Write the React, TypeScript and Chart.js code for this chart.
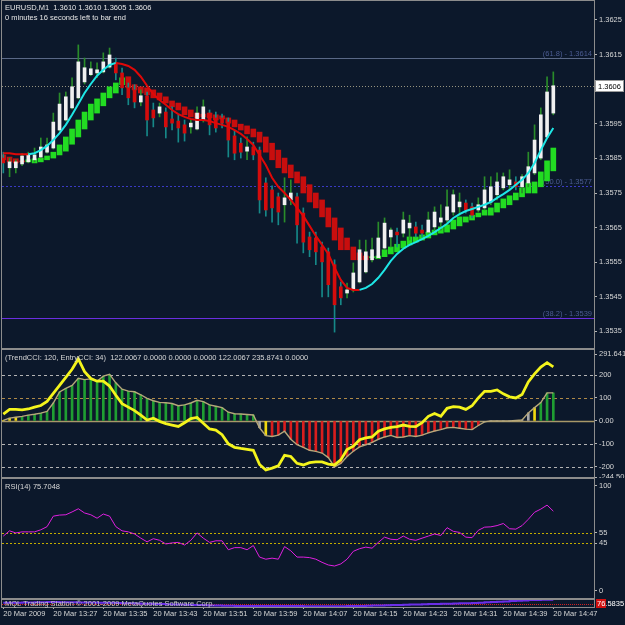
import React, { useEffect, useRef } from "react";
import { Chart, registerables } from "chart.js";

Chart.register(...registerables);

const FONT_FAMILY = "'Liberation Sans', Arial, sans-serif";
const FS = 7.5;
const BG = "#0c182b";
const FRAME = "#8c8c8c";
const TEXT = "#d6d6d6";
const CYAN = "#1ee6e6";
const MA_RED = "#e00808";

const X_MIN = -0.21;
const X_MAX = 94.51;

// 1-minute bars, 20 Mar 2009 13:19 .. 14:47
const timeTickBars = [0, 8, 16, 24, 32, 40, 48, 56, 64, 72, 80, 88];
const timeTickLabels = [
  "20 Mar 2009", "20 Mar 13:27", "20 Mar 13:35", "20 Mar 13:43", "20 Mar 13:51", "20 Mar 13:59",
  "20 Mar 14:07", "20 Mar 14:15", "20 Mar 14:23", "20 Mar 14:31", "20 Mar 14:39", "20 Mar 14:47",
];

const candleOpen = [
  1.35851, 1.35823, 1.35823, 1.35834, 1.3584, 1.35846, 1.35854, 1.35868, 1.3588, 1.35932,
  1.35961, 1.35996, 1.36025, 1.36071, 1.36092, 1.36097, 1.361, 1.36114, 1.36126, 1.36097,
  1.36054, 1.36048, 1.36013, 1.36031, 1.3599, 1.35981, 1.35984, 1.35964, 1.35958, 1.35947,
  1.35941, 1.35935, 1.35961, 1.35981, 1.35967, 1.35967, 1.35955, 1.35915, 1.35894, 1.35871,
  1.35883, 1.35874, 1.35779, 1.35759, 1.35739, 1.35716, 1.3573, 1.35739, 1.35692, 1.35623,
  1.3562, 1.35594, 1.3558, 1.35543, 1.35479, 1.35461, 1.3547, 1.35493, 1.35522, 1.35557,
  1.35563, 1.35591, 1.35623, 1.35637, 1.35634, 1.35649, 1.35652, 1.35643, 1.35637, 1.35652,
  1.35666, 1.35672, 1.35695, 1.3571, 1.35721, 1.3571, 1.35701, 1.35707, 1.35724, 1.35745,
  1.35765, 1.35774, 1.35782, 1.35768, 1.35779, 1.35808, 1.35851, 1.35912, 1.35981,
];
const candleHigh = [
  1.35868, 1.35851, 1.35846, 1.35865, 1.35868, 1.3588, 1.35909, 1.35909, 1.35981, 1.36039,
  1.36042, 1.36083, 1.36178, 1.3614, 1.36129, 1.36126, 1.36155, 1.36169, 1.3614, 1.36111,
  1.36068, 1.36063, 1.36048, 1.36042, 1.3601, 1.3601, 1.35996, 1.35999, 1.35976, 1.35961,
  1.35961, 1.35999, 1.36019, 1.3599, 1.35984, 1.35978, 1.35967, 1.35932, 1.35909, 1.35912,
  1.35897, 1.35883, 1.35794, 1.35771, 1.3575, 1.35794, 1.35788, 1.3575, 1.35707, 1.35637,
  1.35637, 1.35608, 1.35591, 1.35557, 1.35493, 1.3549, 1.35548, 1.35614, 1.35614, 1.3562,
  1.35666, 1.35678, 1.35649, 1.35649, 1.35695, 1.35686, 1.35666, 1.35657, 1.35695, 1.3571,
  1.35716, 1.35759, 1.35759, 1.3575, 1.3573, 1.35721, 1.35736, 1.35797, 1.35797, 1.35808,
  1.35808, 1.35817, 1.35797, 1.35803, 1.35868, 1.35947, 1.35996, 1.36086, 1.361,
];
const candleLow = [
  1.35808, 1.35797, 1.35808, 1.35829, 1.35837, 1.3584, 1.35851, 1.35865, 1.35877, 1.35929,
  1.35958, 1.35993, 1.36022, 1.36065, 1.36089, 1.36083, 1.36097, 1.36111, 1.36077, 1.36034,
  1.36005, 1.35996, 1.36002, 1.35915, 1.35941, 1.3597, 1.35909, 1.35932, 1.35897, 1.359,
  1.35923, 1.35932, 1.35955, 1.35918, 1.35926, 1.35938, 1.35854, 1.35846, 1.35851, 1.35846,
  1.35846, 1.35692, 1.35683, 1.35666, 1.35658, 1.35666, 1.35716, 1.35605, 1.35577, 1.35566,
  1.35543, 1.3545, 1.3545, 1.35348, 1.35427, 1.35447, 1.35464, 1.3549, 1.35519, 1.35551,
  1.3556, 1.35586, 1.35594, 1.35594, 1.35623, 1.35614, 1.35623, 1.35623, 1.35634, 1.35637,
  1.35643, 1.35666, 1.35686, 1.35686, 1.35692, 1.35678, 1.35695, 1.35701, 1.35716, 1.3573,
  1.35759, 1.35759, 1.35759, 1.3575, 1.35768, 1.35803, 1.35846, 1.35909, 1.35976,
];
const candleClose = [
  1.35837, 1.3584, 1.3584, 1.35857, 1.35862, 1.3586, 1.35883, 1.35889, 1.35955, 1.36007,
  1.36028, 1.36057, 1.36129, 1.36112, 1.36109, 1.36106, 1.36129, 1.36149, 1.36097, 1.36054,
  1.36025, 1.36013, 1.36031, 1.35961, 1.35967, 1.35999, 1.35941, 1.35952, 1.35938, 1.35923,
  1.35952, 1.35981, 1.35999, 1.35947, 1.35938, 1.35952, 1.35903, 1.35865, 1.35868, 1.35883,
  1.3586, 1.3573, 1.35701, 1.35707, 1.35695, 1.35736, 1.3575, 1.35658, 1.35608, 1.35586,
  1.3558, 1.35551, 1.35485, 1.35427, 1.35447, 1.3547, 1.35519, 1.35586, 1.3558, 1.35586,
  1.3562, 1.35663, 1.35643, 1.35629, 1.35672, 1.35663, 1.35634, 1.35634, 1.35672, 1.35695,
  1.35678, 1.3571, 1.35745, 1.35724, 1.35701, 1.35686, 1.35716, 1.35759, 1.35768, 1.35782,
  1.35797, 1.35788, 1.35768, 1.35797, 1.35826, 1.35903, 1.35976, 1.36042, 1.3606,
];
const haOpen = [
  1.3586, 1.35854, 1.35849, 1.35843, 1.3584, 1.35837, 1.3584, 1.35846, 1.35851, 1.3586,
  1.35871, 1.35891, 1.35912, 1.35935, 1.35961, 1.35981, 1.36002, 1.36025, 1.36039, 1.36063,
  1.36086, 1.36063, 1.36057, 1.36054, 1.36048, 1.36039, 1.36028, 1.36016, 1.3601, 1.35999,
  1.3599, 1.35981, 1.35978, 1.35981, 1.35976, 1.35973, 1.35967, 1.35961, 1.35949, 1.35944,
  1.35935, 1.35926, 1.35912, 1.35894, 1.35874, 1.35851, 1.35831, 1.35811, 1.35797, 1.35774,
  1.3575, 1.3573, 1.35707, 1.35678, 1.35649, 1.3562, 1.35594, 1.35577, 1.35568, 1.35563,
  1.3556, 1.35566, 1.35574, 1.3558, 1.35591, 1.356, 1.35608, 1.35614, 1.3562, 1.35629,
  1.35634, 1.35637, 1.35646, 1.35655, 1.35666, 1.35672, 1.35681, 1.35686, 1.35686, 1.35695,
  1.35707, 1.35716, 1.3573, 1.35739, 1.3575, 1.3575, 1.35768, 1.35785, 1.35814,
];
const haClose = [
  1.35846, 1.3584, 1.35837, 1.3584, 1.35846, 1.35849, 1.35851, 1.35857, 1.35868, 1.35889,
  1.35912, 1.35935, 1.35961, 1.35984, 1.36007, 1.36022, 1.36039, 1.36057, 1.36068, 1.36083,
  1.36054, 1.36048, 1.36039, 1.36034, 1.36025, 1.36019, 1.3601, 1.35999, 1.3599, 1.35976,
  1.3597, 1.35967, 1.3597, 1.35967, 1.35961, 1.35964, 1.35952, 1.35941, 1.35932, 1.35921,
  1.35912, 1.35897, 1.35868, 1.35846, 1.35823, 1.35808, 1.35794, 1.35779, 1.3575, 1.35724,
  1.35707, 1.35681, 1.35652, 1.35614, 1.35586, 1.35586, 1.35557, 1.35557, 1.35557, 1.35566,
  1.35568, 1.35586, 1.35594, 1.35602, 1.35611, 1.35623, 1.35623, 1.35629, 1.35637, 1.35643,
  1.35652, 1.35658, 1.35672, 1.35681, 1.35681, 1.35686, 1.35692, 1.35701, 1.35707, 1.35721,
  1.35733, 1.35742, 1.3575, 1.35765, 1.35779, 1.35782, 1.35811, 1.35843, 1.3588,
];
const maLine = [
  1.35865, 1.35865, 1.35862, 1.35862, 1.35862, 1.35865, 1.35874, 1.35886, 1.35903, 1.35923,
  1.35947, 1.35976, 1.36007, 1.36039, 1.36065, 1.36089, 1.36106, 1.3612, 1.36126, 1.36123,
  1.36117, 1.36106, 1.36086, 1.3606, 1.36036, 1.36019, 1.36005, 1.3599, 1.35978, 1.3597,
  1.35964, 1.35961, 1.35961, 1.35958, 1.35952, 1.35947, 1.35941, 1.35932, 1.35921, 1.35906,
  1.35889, 1.3586, 1.35831, 1.35794, 1.35768, 1.3575, 1.3573, 1.35707, 1.35684, 1.35655,
  1.35626, 1.356, 1.35574, 1.35534, 1.35499, 1.35476, 1.3547, 1.3547, 1.35476, 1.35487,
  1.35505, 1.35528, 1.35554, 1.35574, 1.35589, 1.356, 1.35608, 1.35617, 1.35626, 1.35637,
  1.35649, 1.35661, 1.35678, 1.35689, 1.35698, 1.35704, 1.3571, 1.35716, 1.35724, 1.35736,
  1.35747, 1.35759, 1.35774, 1.35788, 1.35808, 1.35837, 1.35874, 1.35909, 1.35938,
];
const priceTicks = [1.3535, 1.3545, 1.3555, 1.3565, 1.3575, 1.3585, 1.3595, 1.3605, 1.3615, 1.3625];
const fibLevels = [1.3614, 1.3577, 1.3539];
const fibNames = ["(61.8) - 1.3614", "(50.0) - 1.3577", "(38.2) - 1.3539"];
const lastPrice = 1.3606;
const headerLine1 = "EURUSD,M1  1.3610 1.3610 1.3605 1.3606";
const headerLine2 = "0 minutes 16 seconds left to bar end";

const cciEntry = [
  30, 50, 50, 48, 52, 60, 67, 85, 120, 155,
  190, 225, 270, 215, 185, 173, 173, 152, 112, 75,
  60, 45, 25, 4, 12, -2, -12, -18, -24, -8,
  10, 15, -10, -35, -40, -60, -100, -115, -120, -124,
  -128, -190, -214, -206, -196, -150, -155, -185, -192, -182,
  -179, -179, -188, -192, -170, -125, -110, -82, -74, -70,
  -45, -35, -28, -25, -18, -24, -25, -8, 20, 32,
  20, 55, 62, 60, 50, 66, 100, 129, 129, 135,
  118, 105, 100, 115, 170, 205, 235, 254, 235.8741,
];
const cciTrend = [
  2, 12, 16, 20, 25, 29, 34, 41, 78, 126,
  142, 155, 186, 180, 183, 173, 195, 203, 166, 138,
  130, 127, 114, 98, 88, 81, 79, 76, 66, 70,
  78, 90, 84, 70, 64, 58, 38, 31, 30, 28,
  26, -30, -64, -68, -62, -45, -80, -104, -115, -128,
  -133, -140, -160, -200, -185, -155, -132, -113, -104, -94,
  -80, -70, -63, -72, -70, -64, -68, -62, -52, -44,
  -38, -30, -28, -32, -36, -38, -20, -4, 0, 0,
  0, 0, 2, 4, 35, 58, 80, 122, 122.0067,
];
// histogram state per bar: y = yellow, g = green, r = red, n = neutral grey
const cciHistState =
  "yyyggggggg" + "gggggggggg" + "gggggggggg" + "gggggggggg" +
  "gnyrrrrrrr" + "rrrrrrrrrr" + "rrrrrrrrrr" + "rrrrrrrnnn" + "nnnnnyggg";
const cciTicks = [291.6413, 200, 100, 0, -100, -200, -244.502];
const cciTickLabels = ["291.6413", "200", "100", "0.00", "-100", "-200", "-244.502"];
const cciLevels = [200, 100, -100, -200];
const cciHeader = "(TrendCCI: 120, EntryCCI: 34)  122.0067 0.0000 0.0000 0.0000 122.0067 235.8741 0.0000";

const rsi = [
  52, 57, 55, 56, 56, 56, 58, 61, 71, 72,
  72.3, 75, 78, 74, 72.3, 69, 73, 71, 61, 57,
  56, 54, 50, 46.5, 49.5, 48, 44.5, 45.5, 46, 43.5,
  48, 55, 50, 46, 47.5, 47.5, 39, 41, 41, 39,
  43, 32, 30, 31, 30, 42, 38, 32, 32, 31.5,
  30, 27, 24.5, 23.5, 25.5, 30, 37.5, 40, 41.5, 40.5,
  46, 51, 49, 48.5, 52, 49, 48, 50, 52, 54,
  52.6, 60, 56.5, 55.5, 51, 50.5, 57.5, 60.5, 60.8, 62,
  64, 59, 58.6, 62, 68, 74.7, 77.7, 81.5, 75.7048,
];
const rsiTicks = [100, 55, 45, 0];
const rsiLevels = [55, 45];
const rsiHeader = "RSI(14) 75.7048";

const stripLine = [
  52, 52, 54, 55, 56, 58, 60, 62, 62, 60,
  58, 58, 56, 55, 55, 54, 54, 52, 50, 48,
  46, 44, 42, 40, 38, 36, 34, 32, 30, 28,
  26, 24, 22, 20, 18, 16, 15, 14, 14, 14,
  13, 13, 12, 12, 12, 11, 11, 11, 10, 10,
  10, 10, 10, 10, 10, 11, 12, 14, 16, 18,
  20, 22, 24, 26, 28, 30, 32, 34, 36, 38,
  40, 42, 44, 46, 48, 50, 54, 58, 62, 66,
  70, 74, 78, 82, 86, 88, 90, 92, 92,
];
const stripLevel = 37;
const stripValue = "76.5835";
const stripText = "MQL Trading Station \u00a9 2001-2009 MetaQuotes Software Corp.";

const idx = candleOpen.map((_, i) => i);
const fontTick = { family: FONT_FAMILY, size: FS };
const CSS_FONT = `${FS}px ${FONT_FAMILY}`;

function xScale(): any {
  return { type: "linear", min: X_MIN, max: X_MAX, display: false, offset: false, grid: { offset: false } };
}

function rightAxis(min: number, max: number, ticks: number[], fmt: (v: any, i: number) => string): any {
  return {
    type: "linear",
    position: "right",
    min,
    max,
    beginAtZero: false,
    afterFit: (s: any) => {
      s.width = 31;
      s.paddingTop = 0;
      s.paddingBottom = 0;
    },
    afterBuildTicks: (s: any) => {
      s.ticks = ticks.map((v) => ({ value: v }));
    },
    ticks: { color: TEXT, font: fontTick, padding: 2, autoSkip: false, callback: fmt },
    grid: { drawOnChartArea: false, drawTicks: true, tickLength: 3, color: "#b4b4b4" },
    border: { display: false },
  };
}

const common: any = {
  responsive: false,
  maintainAspectRatio: false,
  animation: false,
  devicePixelRatio: 1,
  events: [],
  plugins: { legend: { display: false }, tooltip: { enabled: false } },
};

function drawFrame(chart: any, bottomY?: number) {
  const { ctx } = chart;
  const h = bottomY ?? chart.height;
  ctx.save();
  ctx.strokeStyle = FRAME;
  ctx.lineWidth = 1;
  ctx.setLineDash([]);
  ctx.strokeRect(1.5, 0.5, 593, h - 1);
  ctx.restore();
}

function hLine(ctx: any, a: any, py: number, color: string, dash: number[], width = 1) {
  ctx.save();
  ctx.strokeStyle = color;
  ctx.lineWidth = width;
  ctx.setLineDash(dash);
  ctx.beginPath();
  ctx.moveTo(a.left, py);
  ctx.lineTo(a.right, py);
  ctx.stroke();
  ctx.restore();
}

const FIB_COLORS = ["#5a6886", "#3a3ac4", "#6a2ee0"];
const FIB_DASH = [[], [2, 2], []];

const mainDecor = {
  id: "mainDecor",
  beforeDatasetsDraw(chart: any) {
    const { ctx, chartArea: a, scales } = chart;
    const y = scales.y;
    fibLevels.forEach((lv, i) => {
      const py = Math.round(y.getPixelForValue(lv)) + 0.5;
      hLine(ctx, a, py, FIB_COLORS[i], FIB_DASH[i]);
      ctx.save();
      ctx.fillStyle = "#4c5c92";
      ctx.font = CSS_FONT;
      ctx.textAlign = "right";
      ctx.textBaseline = "bottom";
      ctx.fillText(fibNames[i], a.right - 2, py - 1);
      ctx.restore();
    });
    const lp = Math.round(y.getPixelForValue(lastPrice)) + 0.5;
    hLine(ctx, a, lp, "#97947f", [1, 2]);
  },
  afterDraw(chart: any) {
    const { ctx, scales } = chart;
    drawFrame(chart);
    ctx.save();
    ctx.fillStyle = "#e4e4e4";
    ctx.font = CSS_FONT;
    ctx.textAlign = "left";
    ctx.textBaseline = "top";
    ctx.fillText(headerLine1, 5, 4);
    ctx.fillText(headerLine2, 5, 14);
    const lp = Math.round(scales.y.getPixelForValue(lastPrice));
    ctx.fillStyle = "#ffffff";
    ctx.fillRect(596, lp - 5, 28, 11);
    ctx.strokeStyle = "#9a9a9a";
    ctx.strokeRect(595.5, lp - 5.5, 28, 11);
    ctx.fillStyle = "#000000";
    ctx.textBaseline = "middle";
    ctx.fillText(lastPrice.toFixed(4), 598, lp + 0.5);
    ctx.restore();
  },
};

const cciDecor = {
  id: "cciDecor",
  beforeDatasetsDraw(chart: any) {
    const { ctx, chartArea: a, scales } = chart;
    const y = scales.y;
    cciLevels.forEach((lv) => {
      const py = Math.round(y.getPixelForValue(lv)) + 0.5;
      hLine(ctx, a, py, lv === 100 ? "#b08a48" : "#b4b4b4", [3, 3]);
    });
    const z = Math.round(y.getPixelForValue(0)) + 0.5;
    hLine(ctx, a, z, "#a89868", [], 1.5);
  },
  afterDraw(chart: any) {
    const { ctx } = chart;
    drawFrame(chart);
    ctx.save();
    ctx.fillStyle = TEXT;
    ctx.font = CSS_FONT;
    ctx.textBaseline = "top";
    ctx.fillText(cciHeader, 5, 5);
    ctx.restore();
  },
};

const rsiDecor = {
  id: "rsiDecor",
  beforeDatasetsDraw(chart: any) {
    const { ctx, chartArea: a, scales } = chart;
    rsiLevels.forEach((lv) => {
      const py = Math.round(scales.y.getPixelForValue(lv)) + 0.5;
      hLine(ctx, a, py, "#c4ac00", [2, 2]);
    });
  },
  afterDraw(chart: any) {
    const { ctx } = chart;
    drawFrame(chart);
    ctx.save();
    ctx.fillStyle = TEXT;
    ctx.font = CSS_FONT;
    ctx.textBaseline = "top";
    ctx.fillText(rsiHeader, 5, 5);
    ctx.restore();
  },
};

const stripDecor = {
  id: "stripDecor",
  beforeDatasetsDraw(chart: any) {
    const { ctx, chartArea: a, scales } = chart;
    const py = Math.round(scales.y.getPixelForValue(stripLevel)) + 0.5;
    hLine(ctx, a, py, "#d02020", [1, 1]);
  },
  afterDraw(chart: any) {
    const { ctx, chartArea: a } = chart;
    drawFrame(chart, a.bottom + 1);
    ctx.save();
    ctx.fillStyle = "#c8c8c8";
    ctx.font = CSS_FONT;
    ctx.textBaseline = "middle";
    ctx.fillText(stripText, 5, 4.5);
    ctx.fillStyle = "#d01010";
    ctx.fillRect(596, 0, 10, 9);
    ctx.fillStyle = "#ffffff";
    ctx.fillText(stripValue, 597, 4.5);
    ctx.restore();
  },
};

function mainConfig(): any {
  return {
    type: "bar",
    data: {
      datasets: [
        {
          type: "line",
          data: idx.map((i) => ({ x: i, y: maLine[i] })),
          borderColor: CYAN,
          borderWidth: 2,
          pointRadius: 0,
          tension: 0,
          segment: {
            borderColor: (c: any) => (c.p1.parsed.y > c.p0.parsed.y ? CYAN : MA_RED),
          },
        },
        {
          type: "bar",
          data: idx.map((i) => ({ x: i, y: [candleOpen[i], candleClose[i]] })),
          backgroundColor: idx.map((i) => (candleClose[i] >= candleOpen[i] ? "#f0f0f0" : "#d40c0c")),
          barThickness: 3,
          grouped: false,
          minBarLength: 1,
          borderWidth: 0,
        },
        {
          type: "bar",
          data: idx.map((i) => ({ x: i, y: [candleLow[i], candleHigh[i]] })),
          backgroundColor: idx.map((i) => (candleClose[i] >= candleOpen[i] ? "#2a8c2a" : "#168888")),
          barThickness: 1,
          grouped: false,
          borderWidth: 0,
        },
        {
          type: "bar",
          data: idx.map((i) => ({ x: i, y: [haOpen[i], haClose[i]] })),
          backgroundColor: idx.map((i) => (haClose[i] >= haOpen[i] ? "#22dc22" : "#c80e0e")),
          barThickness: 5,
          grouped: false,
          minBarLength: 1,
          borderWidth: 0,
        },
      ],
    },
    options: {
      ...common,
      layout: { padding: { left: 2, right: 0, top: 2, bottom: 2 } },
      scales: {
        x: xScale(),
        y: rightAxis(1.35305, 1.36302, priceTicks, (v: any) => Number(v).toFixed(4)),
      },
    },
    plugins: [mainDecor],
  };
}

const HIST_COLORS: Record<string, string> = { y: "#f0d810", g: "#1f9e32", r: "#d81e1e", n: "#a8a8a8" };

function cciConfig(): any {
  return {
    type: "bar",
    data: {
      datasets: [
        {
          type: "line",
          data: idx.map((i) => ({ x: i, y: cciEntry[i] })),
          borderColor: "#f4f41c",
          borderWidth: 2.8,
          pointRadius: 0,
          tension: 0,
        },
        {
          type: "line",
          data: idx.map((i) => ({ x: i, y: cciTrend[i] })),
          borderColor: "#b6a77a",
          borderWidth: 1.4,
          pointRadius: 0,
          tension: 0,
        },
        {
          type: "bar",
          data: idx.map((i) => ({ x: i, y: [0, cciTrend[i]] })),
          backgroundColor: idx.map((i) => HIST_COLORS[cciHistState[i]]),
          barThickness: 2,
          grouped: false,
          borderWidth: 0,
        },
      ],
    },
    options: {
      ...common,
      layout: { padding: { left: 2, right: 0, top: 5, bottom: 1 } },
      scales: {
        x: xScale(),
        y: rightAxis(-244.502, 291.6413, cciTicks, (_v: any, i: number) => cciTickLabels[i]),
      },
    },
    plugins: [cciDecor],
  };
}

function rsiConfig(): any {
  return {
    type: "line",
    data: {
      datasets: [
        {
          data: idx.map((i) => ({ x: i, y: rsi[i] })),
          borderColor: "#e020e0",
          borderWidth: 1,
          pointRadius: 0,
          tension: 0,
        },
      ],
    },
    options: {
      ...common,
      layout: { padding: { left: 2, right: 0, top: 0, bottom: 0 } },
      scales: {
        x: xScale(),
        y: rightAxis(-7.9, 107.3, rsiTicks, (v: any) => String(v)),
      },
    },
    plugins: [rsiDecor],
  };
}

function stripConfig(): any {
  return {
    type: "line",
    data: {
      datasets: [
        {
          data: idx.map((i) => ({ x: i, y: stripLine[i] })),
          borderColor: "#6a2ee8",
          borderWidth: 2,
          pointRadius: 0,
          tension: 0,
          stepped: true,
        },
      ],
    },
    options: {
      ...common,
      layout: { padding: { left: 2, right: 31, top: 0, bottom: 0 } },
      scales: {
        x: {
          type: "linear",
          min: X_MIN,
          max: X_MAX,
          offset: false,
          position: "bottom",
          afterFit: (s: any) => {
            s.height = 18;
            s.paddingLeft = 0;
            s.paddingRight = 0;
          },
          afterBuildTicks: (s: any) => {
            s.ticks = timeTickBars.map((v) => ({ value: v }));
          },
          ticks: {
            color: TEXT,
            font: fontTick,
            align: "start",
            maxRotation: 0,
            minRotation: 0,
            autoSkip: false,
            padding: 0,
            callback: (_v: any, i: number) => timeTickLabels[i],
          },
          grid: { drawOnChartArea: false, offset: false, drawTicks: true, tickLength: 2, color: "#b4b4b4" },
          border: { display: false },
        },
        y: { type: "linear", min: 0, max: 100, display: false },
      },
    },
    plugins: [stripDecor],
  };
}

const panels = [
  { top: 0, h: 349, make: mainConfig },
  { top: 349, h: 129, make: cciConfig },
  { top: 478, h: 121, make: rsiConfig },
  { top: 599, h: 26, make: stripConfig },
];

export default function App() {
  const refs = [
    useRef<HTMLCanvasElement>(null),
    useRef<HTMLCanvasElement>(null),
    useRef<HTMLCanvasElement>(null),
    useRef<HTMLCanvasElement>(null),
  ];
  useEffect(() => {
    const charts = panels.map((p, i) => new Chart(refs[i].current as HTMLCanvasElement, p.make()));
    return () => charts.forEach((c) => c.destroy());
  }, []);
  return (
    <div
      style={{
        position: "fixed",
        left: 0,
        top: 0,
        width: 625,
        height: 625,
        background: BG,
        overflow: "hidden",
      }}
    >
      {panels.map((p, i) => (
        <canvas
          key={i}
          ref={refs[i]}
          width={625}
          height={p.h}
          style={{ position: "absolute", left: 0, top: p.top, width: 625, height: p.h }}
        />
      ))}
    </div>
  );
}
